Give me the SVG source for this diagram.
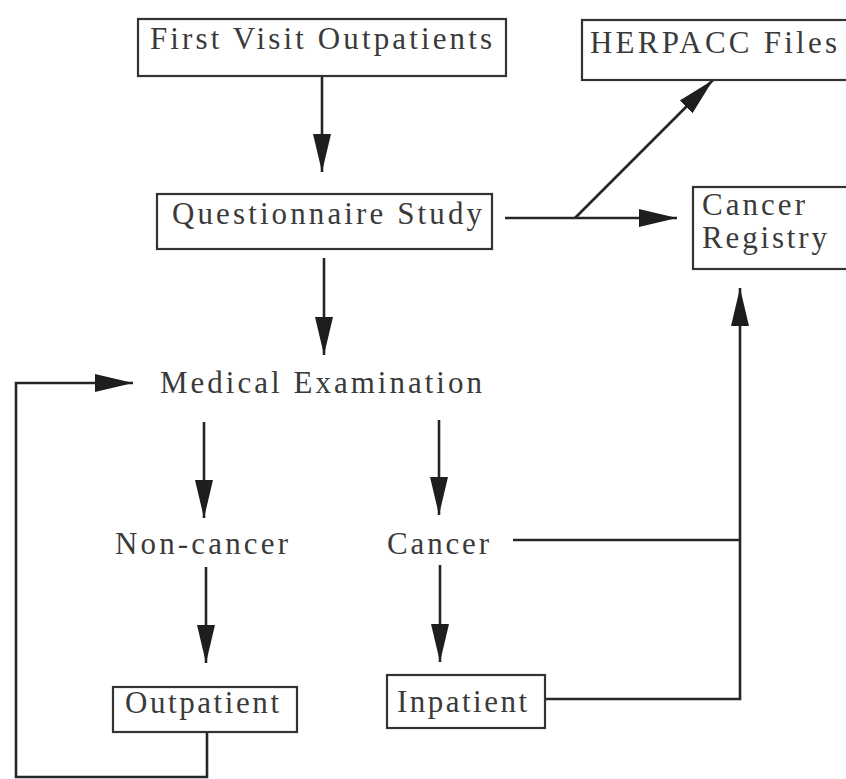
<svg xmlns="http://www.w3.org/2000/svg" width="846" height="779" viewBox="0 0 846 779">
<style>
.box{fill:#fff;stroke:#333;stroke-width:2.2}
.t{font-family:"Liberation Serif","Times New Roman",serif;font-size:31px;fill:#3a3a3a}
.c{fill:none;stroke:#262626;stroke-width:2.6}
</style>
<defs>
<marker id="ah" markerUnits="userSpaceOnUse" markerWidth="40" markerHeight="22" refX="38" refY="10" orient="auto">
<path d="M0,1 L38,10 L0,19 z" fill="#1e1e1e"/>
</marker>
</defs>
<rect width="846" height="779" fill="#fff"/>
<g id="connectors">
<line class="c" x1="322" y1="76" x2="322" y2="172" marker-end="url(#ah)"/>
<line class="c" x1="324" y1="258" x2="324" y2="355" marker-end="url(#ah)"/>
<line class="c" x1="505" y1="218" x2="677" y2="218" marker-end="url(#ah)"/>
<line class="c" x1="575" y1="218" x2="713" y2="80" marker-end="url(#ah)"/>
<line class="c" x1="204" y1="422" x2="204" y2="518" marker-end="url(#ah)"/>
<line class="c" x1="439" y1="420" x2="439" y2="515" marker-end="url(#ah)"/>
<line class="c" x1="206" y1="567" x2="206" y2="663" marker-end="url(#ah)"/>
<line class="c" x1="440" y1="565" x2="440" y2="662" marker-end="url(#ah)"/>
<polyline class="c" points="207,732 207,777 16,777 16,383 133,383" marker-end="url(#ah)"/>
<polyline class="c" points="513,540 740,540"/>
<polyline class="c" points="545,699 740,699 740,288" marker-end="url(#ah)"/>
</g>
<g id="first-visit">
<rect class="box" x="138" y="19" width="368" height="57"/>
<text class="t" x="150" y="49" textLength="342" lengthAdjust="spacing">First Visit Outpatients</text>
</g>
<g id="questionnaire">
<rect class="box" x="157" y="194" width="335" height="55"/>
<text class="t" x="172" y="224" textLength="310" lengthAdjust="spacing">Questionnaire Study</text>
</g>
<g id="herpacc">
<rect class="box" x="582" y="20" width="270" height="60"/>
<text class="t" x="590" y="53" textLength="247" lengthAdjust="spacing">HERPACC Files</text>
</g>
<g id="cancer-registry">
<rect class="box" x="693" y="187" width="160" height="82"/>
<text class="t" x="702" y="215" textLength="103" lengthAdjust="spacing">Cancer</text>
<text class="t" x="702" y="248" textLength="125" lengthAdjust="spacing">Registry</text>
</g>
<g id="medical">
<text class="t" x="160" y="393" textLength="322" lengthAdjust="spacing">Medical Examination</text>
</g>
<g id="non-cancer">
<text class="t" x="115" y="554" textLength="173" lengthAdjust="spacing">Non-cancer</text>
</g>
<g id="cancer">
<text class="t" x="387" y="554" textLength="102" lengthAdjust="spacing">Cancer</text>
</g>
<g id="outpatient">
<rect class="box" x="113" y="687" width="184" height="45"/>
<text class="t" x="125" y="713" textLength="154" lengthAdjust="spacing">Outpatient</text>
</g>
<g id="inpatient">
<rect class="box" x="387" y="675" width="158" height="53"/>
<text class="t" x="397" y="712" textLength="130" lengthAdjust="spacing">Inpatient</text>
</g>
</svg>
